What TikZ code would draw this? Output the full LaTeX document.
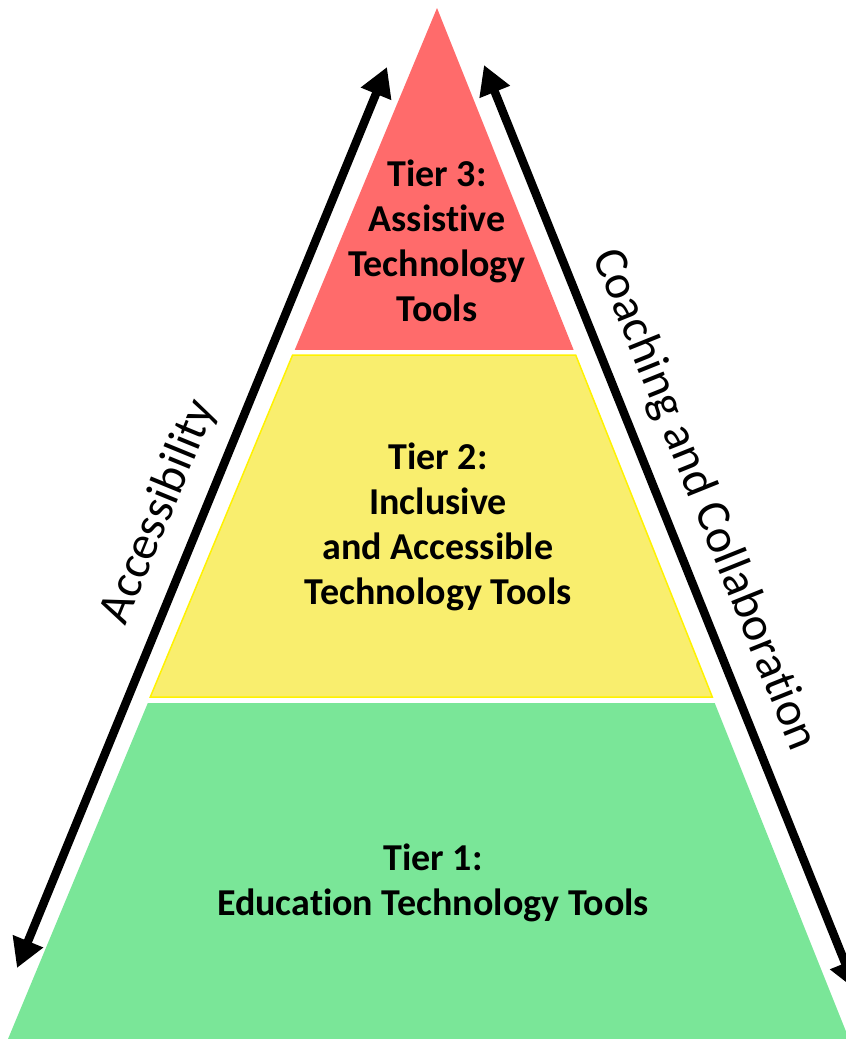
\documentclass[tikz,border=0pt]{standalone}
\usepackage{fontspec}
\setmainfont{Carlito}[Ligatures=NoCommon]
\usetikzlibrary{calc,arrows.meta}
\definecolor{tierred}{RGB}{255,107,107}
\definecolor{tieryellow}{RGB}{249,238,110}
\definecolor{tiergreen}{RGB}{122,230,152}
\tikzset{
  tiertext/.style={align=center, font=\bfseries\fontsize{38}{45}\selectfont},
  sidetext/.style={font=\fontsize{48}{54}\selectfont},
  sidearrow/.style={line width=8.5pt, {Triangle[length=29pt,width=31pt]}-{Triangle[length=29pt,width=31pt]}}
}

\begin{document}
\begin{tikzpicture}[x=1pt,y=-1pt]
			%%%%% START %%%%%
			\useasboundingbox (0,0) rectangle (846,1039);
			
			\coordinate (apex) at (437,8);
			\coordinate (baseL) at (8,1039);
			\coordinate (baseR) at (849,1039);
			
			% tier 3
			\fill[tierred] (apex) -- ($(apex)!0.3317!(baseR)$) -- ($(apex)!0.3317!(baseL)$) -- cycle;
			% tier 2
			\draw[yellow, line width=1.5pt, fill=tieryellow] ($(apex)!0.3366!(baseL)$) -- ($(apex)!0.3366!(baseR)$) -- ($(apex)!0.6683!(baseR)$) -- ($(apex)!0.6683!(baseL)$) -- cycle;
			% tier 1
			\fill[tiergreen] ($(apex)!0.6741!(baseL)$) -- ($(apex)!0.6741!(baseR)$) -- (baseR) -- (baseL) -- cycle;
			
			\node[tiertext] (tier3) at (437,241) {Tier 3:\\Assistive\\Technology\\Tools};
			\node[tiertext] (tier2) at (438,527) {Tier 2:\\Inclusive\\and Accessible\\Technology Tools};
			\node[tiertext] (tier1) at (433,883) {Tier 1:\\Education Technology Tools};
			
			\coordinate (accLo) at (17,968);
			\coordinate (accHi) at (387,67);
			\coordinate (coHi) at (484,65);
			\coordinate (coLo) at (856,990);
			\draw[sidearrow] (accLo) -- (accHi);
			\draw[sidearrow] (coHi) -- (coLo);
			
			\node[sidetext, rotate=67.7] (access) at (159,512) {Accessibility};
			\node[sidetext, rotate=-68.1] (coach) at (704,500) {Coaching and Collaboration};
			%%%%% END %%%%%
\end{tikzpicture}
\end{document}
